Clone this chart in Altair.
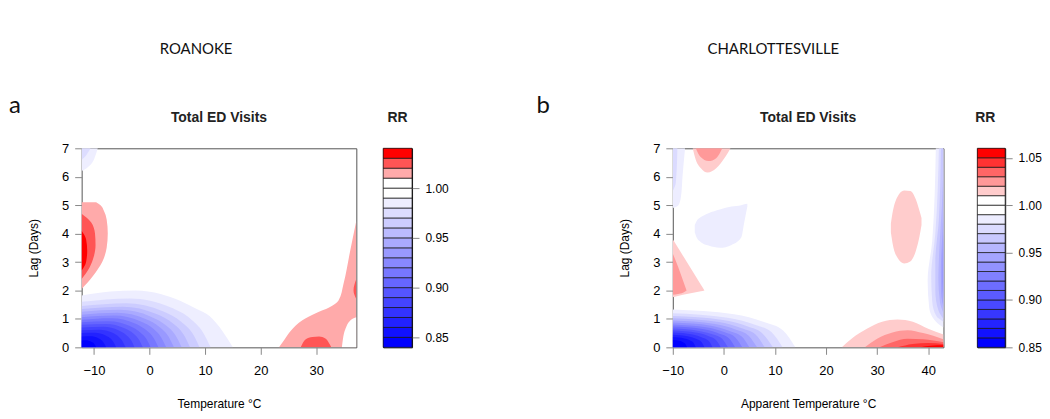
import altair as alt
import pandas as pd

# ---------------- text ----------------
A_CITY = "ROANOKE"
B_CITY = "CHARLOTTESVILLE"
PANEL_TITLE = "Total ED Visits"
A_XLABEL = "Temperature °C"
B_XLABEL = "Apparent Temperature °C"
YLABEL = "Lag (Days)"

# ---------------- axes ----------------
A_X_DOMAIN = [-12.2, 37.2]
B_X_DOMAIN = [-10.0, 43.0]
LAG_DOMAIN = [0.0, 7.0]
A_X_TICKS = [-10, 0, 10, 20, 30]
B_X_TICKS = [-10, 0, 10, 20, 30, 40]
LAG_TICKS = [0, 1, 2, 3, 4, 5, 6, 7]

# RR contour levels (colour-key breaks)
A_BREAKS = [0.84, 0.85, 0.86, 0.87, 0.88, 0.89, 0.90, 0.91, 0.92, 0.93, 0.94,
            0.95, 0.96, 0.97, 0.98, 0.99, 1.00, 1.01, 1.02, 1.03, 1.04]
B_BREAKS = [0.85, 0.86, 0.87, 0.88, 0.89, 0.90, 0.91, 0.92, 0.93, 0.94, 0.95,
            0.96, 0.97, 0.98, 0.99, 1.00, 1.01, 1.02, 1.03, 1.04, 1.05, 1.06]
A_RR_TICKS = [0.85, 0.90, 0.95, 1.00]
B_RR_TICKS = [0.85, 0.90, 0.95, 1.00, 1.05]

# ---------------- panel a: contour regions ----------------
# Low-temperature blue zone: upper boundary (lag) of each RR contour, anchored at lag 0
A_BLUE = [
    (0.985, [-12.2, -7.0, -2.5, 2.0, 5.5, 8.5, 10.8, 13.2, 15.0], [1.82, 1.96, 2.0, 1.88, 1.64, 1.35, 1.1, 0.55, 0.0]),
    (0.975, [-12.2, -3.5, 3.75, 7.4, 9.55, 11.0], [1.6, 1.72, 1.41, 1.0, 0.55, 0.0]),
    (0.965, [-12.2, -4.2, 2.4, 5.7, 7.7, 9.0], [1.45, 1.55, 1.27, 0.9, 0.5, 0.0]),
    (0.955, [-12.2, -4.8, 1.25, 4.3, 6.1, 7.3], [1.35, 1.43, 1.17, 0.83, 0.46, 0.0]),
    (0.945, [-12.2, -5.3, 0.25, 3.0, 4.7, 5.8], [1.25, 1.32, 1.08, 0.77, 0.42, 0.0]),
    (0.935, [-12.2, -5.8, -0.7, 1.85, 3.4, 4.4], [1.15, 1.22, 1.0, 0.71, 0.39, 0.0]),
    (0.925, [-12.2, -6.3, -1.65, 0.7, 2.05, 3.0], [1.06, 1.12, 0.92, 0.65, 0.36, 0.0]),
    (0.915, [-12.2, -6.8, -2.6, -0.5, 0.75, 1.6], [0.97, 1.02, 0.84, 0.59, 0.33, 0.0]),
    (0.905, [-12.2, -7.3, -3.55, -1.7, -0.55, 0.2], [0.88, 0.92, 0.75, 0.53, 0.29, 0.0]),
    (0.895, [-12.2, -7.8, -4.5, -2.85, -1.85, -1.2], [0.79, 0.82, 0.67, 0.48, 0.26, 0.0]),
    (0.885, [-12.2, -8.3, -5.5, -4.1, -3.25, -2.7], [0.7, 0.72, 0.59, 0.42, 0.23, 0.0]),
    (0.875, [-12.2, -9.0, -6.65, -5.5, -4.8, -4.3], [0.6, 0.62, 0.51, 0.36, 0.2, 0.0]),
    (0.865, [-12.2, -9.8, -7.9, -6.95, -6.4, -6.0], [0.5, 0.51, 0.42, 0.3, 0.16, 0.0]),
    (0.855, [-12.2, -10.6, -9.2, -8.5, -8.1, -7.8], [0.38, 0.39, 0.32, 0.23, 0.12, 0.0]),
    (0.845, [-12.2, -11.4, -10.5, -10.05, -9.8, -9.6], [0.24, 0.25, 0.2, 0.15, 0.08, 0.0]),
]
# other regions: ("v", rr, x, lag_lo, lag_hi) or ("h", rr, lag, x_lo, x_hi)
A_OTHER = [
    ("v", 0.985, [-12.2, -11.0, -10.0, -9.3], [6.2, 6.35, 6.6, 7.0], 7.0),
    ("v", 0.975, [-12.2, -11.4, -10.6], [6.6, 6.75, 7.0], 7.0),
    ("h", 1.015, [2.05, 2.5, 3.0, 3.5, 4.0, 4.5, 4.8, 5.0, 5.1], -12.2,
     [-12.2, -10.2, -8.5, -7.7, -7.5, -7.7, -8.2, -8.8, -9.6]),
    ("h", 1.025, [2.4, 2.8, 3.2, 3.6, 4.0, 4.4, 4.7], -12.2,
     [-12.2, -10.8, -10.0, -9.7, -9.8, -10.5, -12.2]),
    ("h", 1.035, [2.7, 3.0, 3.4, 3.8, 4.1], -12.2, [-12.2, -11.4, -11.2, -11.4, -12.2]),
    ("h", 1.015, [0.0, 0.25, 0.6, 0.95, 1.2, 1.4, 1.65, 2.24, 3.4, 4.45],
     [23.3, 24.2, 25.5, 27.5, 29.9, 32.3, 34.0, 34.9, 36.1, 37.2], 37.2),
    ("v", 1.025, [27.2, 28.0, 29.3, 30.5, 31.7, 32.7], 0.0, [0.0, 0.27, 0.36, 0.38, 0.3, 0.0]),
    ("v", 1.005, [34.6, 34.8, 35.4, 36.2, 37.2], 0.0, [0.0, 0.3, 0.72, 0.96, 1.06]),
    ("h", 1.025, [1.7, 2.0, 2.4], [37.2, 36.7, 37.2], 37.2),
]

# ---------------- panel b ----------------
B_BLUE = [
    (0.985, [-10, 2.0, 8.0, 11.6, 14.0], [1.33, 1.16, 0.88, 0.59, 0.0]),
    (0.975, [-10, 0.75, 6.1, 9.35, 11.5], [1.2, 1.04, 0.79, 0.53, 0.0]),
    (0.965, [-10, -0.2, 4.7, 7.6, 9.6], [1.1, 0.96, 0.73, 0.48, 0.0]),
    (0.955, [-10, -1.0, 3.5, 6.2, 8.0], [1.02, 0.89, 0.67, 0.45, 0.0]),
    (0.945, [-10, -1.75, 2.4, 4.85, 6.5], [0.94, 0.82, 0.62, 0.41, 0.0]),
    (0.935, [-10, -2.5, 1.25, 3.5, 5.0], [0.87, 0.76, 0.57, 0.38, 0.0]),
    (0.925, [-10, -3.2, 0.2, 2.25, 3.6], [0.8, 0.7, 0.53, 0.35, 0.0]),
    (0.915, [-10, -3.9, -0.85, 1.0, 2.2], [0.73, 0.64, 0.48, 0.32, 0.0]),
    (0.905, [-10, -4.6, -1.9, -0.3, 0.8], [0.66, 0.57, 0.44, 0.29, 0.0]),
    (0.895, [-10, -5.3, -2.95, -1.55, -0.6], [0.59, 0.51, 0.39, 0.26, 0.0]),
    (0.885, [-10, -6.1, -4.15, -3.0, -2.2], [0.52, 0.45, 0.34, 0.23, 0.0]),
    (0.875, [-10, -6.9, -5.35, -4.4, -3.8], [0.44, 0.38, 0.29, 0.19, 0.0]),
    (0.865, [-10, -7.75, -6.6, -5.95, -5.5], [0.36, 0.31, 0.24, 0.16, 0.0]),
    (0.855, [-10, -8.6, -7.9, -7.5, -7.2], [0.26, 0.23, 0.17, 0.11, 0.0]),
]
B_OTHER = [
    ("h", 0.985, [4.9, 5.0, 5.3, 6.0, 7.0], -10.0, [-10.0, -8.9, -8.4, -8.1, -7.6]),
    ("h", 0.975, [5.5, 5.8, 7.0], -10.0, [-10.0, -9.4, -9.1]),
    ("v", 0.985, [-5.7, -5.3, -4.5, -3.0, -0.8, 1.5, 3.4, 4.0, 4.6],
     [4.05, 3.85, 3.7, 3.58, 3.5, 3.6, 3.86, 4.4, 4.95], [4.3, 4.45, 4.58, 4.72, 4.85, 4.95, 5.0, 5.03, 5.05]),
    ("v", 1.015, [-6.1, -5.5, -4.5, -3.2, -1.5, 0.3, 1.3], [7.0, 6.6, 6.3, 6.15, 6.3, 6.7, 7.0], 7.0),
    ("v", 1.025, [-5.5, -4.6, -3.0, -1.5, -0.3], [7.0, 6.7, 6.55, 6.65, 7.0], 7.0),
    ("v", 1.015, [-10, -8, -6, -4.5, -3.8], [1.76, 1.85, 1.92, 1.97, 2.0], [3.8, 3.22, 2.64, 2.2, 2.0]),
    ("v", 1.025, [-10, -9, -8, -7.3], [1.85, 1.88, 1.92, 2.0], [3.3, 2.85, 2.35, 2.0]),
    ("v", 1.015, [32.7, 33.1, 34.0, 35.3, 36.5, 37.6, 38.3, 38.7],
     [4.05, 3.6, 3.15, 2.95, 3.02, 3.4, 3.9, 4.3], [4.35, 4.8, 5.3, 5.52, 5.5, 5.2, 4.8, 4.55]),
    ("h", 0.985, [0.7, 0.84, 1.4, 2.35, 3.75, 7.0], [43, 41.9, 40.2, 39.9, 40.8, 41.5], 43.0),
    ("h", 0.975, [0.9, 1.1, 1.6, 2.5, 4.0, 7.0], [43, 41.6, 40.8, 40.6, 41.4, 42.1], 43.0),
    ("h", 0.965, [1.0, 1.3, 2.0, 3.0, 4.5, 7.0], [43, 42.0, 41.4, 41.4, 42.1, 42.5], 43.0),
    ("h", 0.955, [1.2, 1.6, 2.4, 3.5, 5.0, 6.5], [43, 42.3, 42.0, 42.2, 42.7, 43], 43.0),
    ("h", 0.945, [1.4, 1.9, 2.8, 4.0, 4.8], [43, 42.55, 42.5, 42.8, 43], 43.0),
    ("h", 0.935, [1.7, 2.3, 3.2, 4.0], [43, 42.8, 42.85, 43], 43.0),
    ("v", 1.015, [23.1, 25, 28, 31, 34, 37, 40, 43], 0.0, [0, 0.3, 0.65, 0.9, 0.98, 0.9, 0.65, 0.45]),
    ("v", 1.025, [27.6, 30, 33, 36, 39, 43], 0.0, [0, 0.3, 0.52, 0.6, 0.5, 0.28]),
    ("v", 1.035, [30.5, 33, 36, 39, 43], 0.0, [0, 0.18, 0.3, 0.28, 0.18]),
    ("v", 1.045, [34, 37, 40, 43], 0.0, [0, 0.12, 0.15, 0.12]),
    ("v", 1.055, [38.5, 40.5, 43], 0.0, [0, 0.06, 0.07]),
]

# ---------------- styling ----------------
FONT = "Liberation Sans"
TXT = "#333333"
FRAME = "#555555"


def ramp(breaks):
    nb = sum(1 for b in breaks[:-1] if b < 1.0)
    nr = len(breaks) - 1 - nb
    cols = []
    for i in range(nb):
        f = i / (nb - 1)
        v = round(255 * f)
        cols.append("#%02x%02x%02x" % (v, v, 255))
    for j in range(nr):
        f = 1 - j / (nr - 1)
        v = round(255 * f)
        cols.append("#%02x%02x%02x" % (255, v, v))
    return cols


def full(v, n):
    return v if isinstance(v, list) else [v] * n


def panel(blue, other, xdom, xticks, xlabel, breaks, field, width, city, city_x, letter, letter_x):
    cscale = alt.Scale(type="threshold", domain=breaks[1:-1], range=ramp(breaks))
    xs = alt.Scale(domain=xdom, nice=False, zero=False)
    ys = alt.Scale(domain=LAG_DOMAIN, nice=False, zero=False)
    xaxis = alt.Axis(values=xticks, title=xlabel, tickSize=7, labelPadding=10, domain=False,
                     grid=False, labelFlush=False, titleY=56, titleBaseline="middle",
                     titleFontSize=12, titleFontWeight="normal", labelFontSize=13)
    yaxis = alt.Axis(values=LAG_TICKS, title=YLABEL, tickSize=7, labelPadding=6, domain=False,
                     grid=False, labelFlush=False, titleX=-48, titleBaseline="middle",
                     titleFontSize=12, titleFontWeight="normal", labelFontSize=13)
    regions = [("v", rr, xv, 0.0, lv) for rr, xv, lv in blue] + other
    layers = []
    for orient, rr, t, lo, hi in regions:
        n = len(t)
        if orient == "v":
            df = pd.DataFrame({"x": t, "y": full(lo, n), "y2": full(hi, n), field: [rr] * n})
            ch = alt.Chart(df).mark_area(interpolate="monotone", clip=True).encode(
                x=alt.X("x:Q", scale=xs, axis=xaxis),
                y=alt.Y("y:Q", scale=ys, axis=yaxis),
                y2="y2:Q",
                color=alt.Color(f"{field}:Q", scale=cscale, legend=None),
            )
        else:
            df = pd.DataFrame({"y": t, "x": full(lo, n), "x2": full(hi, n), field: [rr] * n})
            ch = alt.Chart(df).mark_area(interpolate="monotone", orient="horizontal", clip=True).encode(
                y=alt.Y("y:Q", scale=ys, axis=yaxis),
                x=alt.X("x:Q", scale=xs, axis=xaxis),
                x2="x2:Q",
                color=alt.Color(f"{field}:Q", scale=cscale, legend=None),
            )
        layers.append(ch)
    layers.append(alt.Chart(pd.DataFrame({"t": [PANEL_TITLE]})).mark_text(font=FONT, fontSize=14, fontWeight="bold", color="#222")
                  .encode(text="t:N", x=alt.value(width / 2), y=alt.value(-30)))
    layers.append(alt.Chart(pd.DataFrame({"t": [city]})).mark_text(font="Lato", fontSize=15, color="#111")
                  .encode(text="t:N", x=alt.value(city_x), y=alt.value(-100)))
    layers.append(alt.Chart(pd.DataFrame({"t": [letter]})).mark_text(font="Lato", fontSize=24, color="#111", align="left")
                  .encode(text="t:N", x=alt.value(letter_x), y=alt.value(-42)))
    return alt.layer(*layers).properties(width=width, height=200,
                                         view=alt.ViewBackground(stroke=FRAME, strokeWidth=1))


def legend(breaks, ticks, field, width, rr_x):
    cscale = alt.Scale(type="threshold", domain=breaks[1:-1], range=ramp(breaks))
    df = pd.DataFrame({"lo": breaks[:-1], "hi": breaks[1:]})
    df[field] = [(a + b) / 2 for a, b in zip(breaks[:-1], breaks[1:])]
    bars = alt.Chart(df).mark_rect(stroke="#111", strokeWidth=0.7).encode(
        y=alt.Y("lo:Q", scale=alt.Scale(domain=[breaks[0], breaks[-1]], nice=False, zero=False),
                axis=alt.Axis(orient="right", values=ticks, format=".2f", title=None, tickSize=7,
                              labelPadding=6, domain=False, grid=False, labelFlush=False, labelFontSize=12)),
        y2="hi:Q",
        x=alt.value(0), x2=alt.value(width),
        color=alt.Color(f"{field}:Q", scale=cscale, legend=None),
    )
    rr = alt.Chart(pd.DataFrame({"t": ["RR"]})).mark_text(font=FONT, fontSize=14, fontWeight="bold", color="#222").encode(
        text="t:N", x=alt.value(rr_x), y=alt.value(-30))
    return alt.layer(bars, rr).properties(width=width, height=200,
                                          view=alt.ViewBackground(stroke="#111", strokeWidth=1))


def spacer(w):
    return alt.Chart(pd.DataFrame({"s": [0]})).mark_point(opacity=0).encode(
        x=alt.value(0), y=alt.value(0)).properties(width=w, height=200,
                                                    view=alt.ViewBackground(strokeOpacity=0))


pa = panel(A_BLUE, A_OTHER, A_X_DOMAIN, A_X_TICKS, A_XLABEL, A_BREAKS, "rrA", 276, A_CITY, 115, "a", -73)
la = legend(A_BREAKS, A_RR_TICKS, "rrA", 29, 14.5)
pb = panel(B_BLUE, B_OTHER, B_X_DOMAIN, B_X_TICKS, B_XLABEL, B_BREAKS, "rrB", 272, B_CITY, 101, "b", -137)
lb = legend(B_BREAKS, B_RR_TICKS, "rrB", 28, 8)

chart = alt.hconcat(pa, spacer(27), la, spacer(262), pb, spacer(34), lb, spacing=0, bounds="flush").resolve_scale(
    color="independent", x="independent", y="independent"
).properties(
    padding={"left": 0, "top": 32, "right": 0, "bottom": 0}
).configure_axis(
    labelFont=FONT, titleFont=FONT, labelColor=TXT, titleColor=TXT, tickColor="#444444"
).configure(background="white")

chart.save("out.html", embed_options={"renderer": "svg", "actions": False})
